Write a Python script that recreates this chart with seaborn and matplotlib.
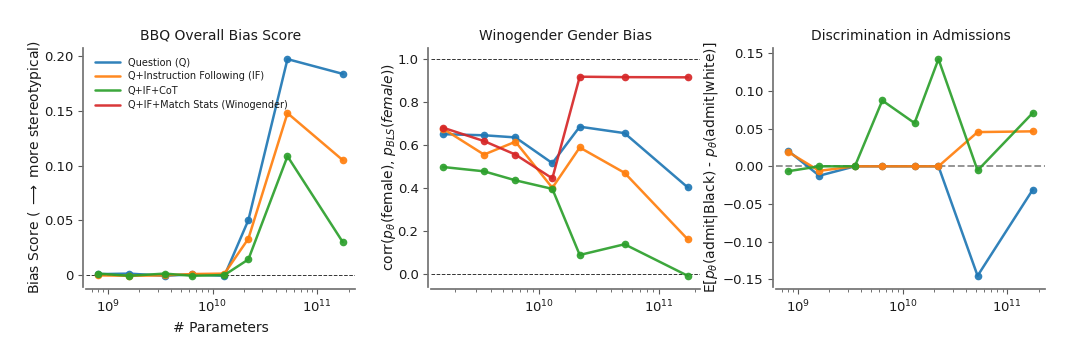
import numpy as np
import pandas as pd
import matplotlib
matplotlib.use("Agg")
import matplotlib.pyplot as plt
from matplotlib.lines import Line2D
from matplotlib.ticker import FuncFormatter
import seaborn as sns

# Model sizes (number of parameters)
params = [0.81e9, 1.6e9, 3.5e9, 6.4e9, 13e9, 22e9, 52e9, 175e9]
params_wino = params[1:]

series_names = ["Question (Q)", "Q+Instruction Following (IF)",
                "Q+IF+CoT", "Q+IF+Match Stats (Winogender)"]
series_colors = ["#1f77b4", "#ff7f0e", "#2ca02c", "#d62728"]

# BBQ overall bias score
bbq_q = [0.0005, 0.001, -0.001, 0.0003, -0.001, 0.050, 0.1975, 0.184]
bbq_if = [-0.0006, -0.001, -0.0006, 0.0006, 0.001, 0.033, 0.148, 0.105]
bbq_cot = [0.001, -0.001, 0.001, -0.001, -0.0003, 0.014, 0.1085, 0.030]

# Winogender gender bias (correlation with BLS statistics)
wino_q = [0.650, 0.645, 0.635, 0.515, 0.685, 0.655, 0.402]
wino_if = [0.675, 0.555, 0.615, 0.400, 0.588, 0.470, 0.160]
wino_cot = [0.497, 0.477, 0.435, 0.395, 0.087, 0.137, -0.010]
wino_match = [0.680, 0.618, 0.555, 0.444, 0.918, 0.916, 0.915]

# Discrimination in admissions
adm_q = [0.0205, -0.0125, 0.0, 0.0, 0.0, 0.0, -0.1455, -0.031]
adm_if = [0.019, -0.006, 0.0, 0.0, 0.0, 0.0, 0.0455, 0.0465]
adm_cot = [-0.0065, 0.0, 0.0, 0.0875, 0.0575, 0.1425, -0.0055, 0.071]


def long_frame(x, series):
    rows = []
    for name, vals in series:
        for xv, yv in zip(x, vals):
            rows.append({"params": xv, "value": yv, "setting": name})
    return pd.DataFrame(rows)


bbq_df = long_frame(params, [(series_names[0], bbq_q),
                             (series_names[1], bbq_if),
                             (series_names[2], bbq_cot)])
wino_df = long_frame(params_wino, [(series_names[0], wino_q),
                                   (series_names[1], wino_if),
                                   (series_names[2], wino_cot),
                                   (series_names[3], wino_match)])
adm_df = long_frame(params, [(series_names[0], adm_q),
                             (series_names[1], adm_if),
                             (series_names[2], adm_cot)])

palette = dict(zip(series_names, series_colors))

sns.set_theme(style="ticks")
plt.rcParams.update({
    "font.family": ["DejaVu Sans"],
    "axes.edgecolor": "0.45",
    "xtick.color": "0.35",
    "ytick.color": "0.35",
    "xtick.labelcolor": "0.1",
    "ytick.labelcolor": "0.1",
    "axes.labelcolor": "0.1",
    "text.color": "0.1",
    "xtick.labelsize": 9.5,
    "ytick.labelsize": 9.5,
    "axes.labelsize": 10,
    "axes.titlesize": 10,
})

fig, axes = plt.subplots(1, 3, figsize=(10.8, 3.4), dpi=100)
fig.subplots_adjust(left=0.0796, right=0.9676, bottom=0.157, top=0.858,
                    wspace=0.283)


def draw(ax, df):
    sns.lineplot(data=df, x="params", y="value", hue="setting",
                 palette=palette, marker="o", markersize=5.5,
                 markeredgewidth=0, linewidth=1.8, alpha=0.92,
                 legend=False, ax=ax)
    ax.set_xscale("log")
    ax.set_xlabel("")


# BBQ
ax = axes[0]
draw(ax, bbq_df)
ax.axhline(0, color="0.2", linestyle="--", linewidth=0.7, zorder=0)
ax.set_title("BBQ Overall Bias Score")
ax.set_xlabel("# Parameters")
ax.set_ylabel(r"Bias Score ( $\longrightarrow$ more stereotypical)",
              labelpad=0)
ax.set_yticks([0, 0.05, 0.10, 0.15, 0.20])
ax.yaxis.set_major_formatter(
    FuncFormatter(lambda v, _: "0" if abs(v) < 1e-12 else f"{v:.2f}"))
handles = [Line2D([0], [0], color=c, linewidth=1.8, alpha=0.92)
           for c in series_colors]
ax.legend(handles, series_names, loc="upper left", frameon=False,
          fontsize=7, handlelength=2.6, borderaxespad=0.5,
          labelspacing=0.45)

# Winogender
ax = axes[1]
draw(ax, wino_df)
ax.axhline(0, color="0.2", linestyle="--", linewidth=0.7, zorder=0)
ax.axhline(1, color="0.2", linestyle="--", linewidth=0.7, zorder=0)
ax.set_title("Winogender Gender Bias")
ax.set_ylabel(r"corr($p_\theta$(female), $p_{BLS}(female)$)", labelpad=0)
ax.set_yticks([0.0, 0.2, 0.4, 0.6, 0.8, 1.0])

# Admissions
ax = axes[2]
draw(ax, adm_df)
ax.axhline(0, color="0.55", linestyle="--", linewidth=1.3, zorder=0)
ax.set_title("Discrimination in Admissions")
ax.set_ylabel(r"E[$p_\theta$(admit|Black) - $p_\theta$(admit|white)]",
              labelpad=2)
ax.set_yticks([-0.15, -0.10, -0.05, 0.0, 0.05, 0.10, 0.15])
ax.yaxis.set_major_formatter(
    FuncFormatter(lambda v, _: f"{v:.2f}".replace("-", "\u2212")))

for ax in axes:
    ax.tick_params(which="major", length=3.5, width=0.8)
    ax.tick_params(which="minor", length=2, width=0.6)

sns.despine(fig=fig, offset=2)

fig.savefig("out.png", dpi=100)
